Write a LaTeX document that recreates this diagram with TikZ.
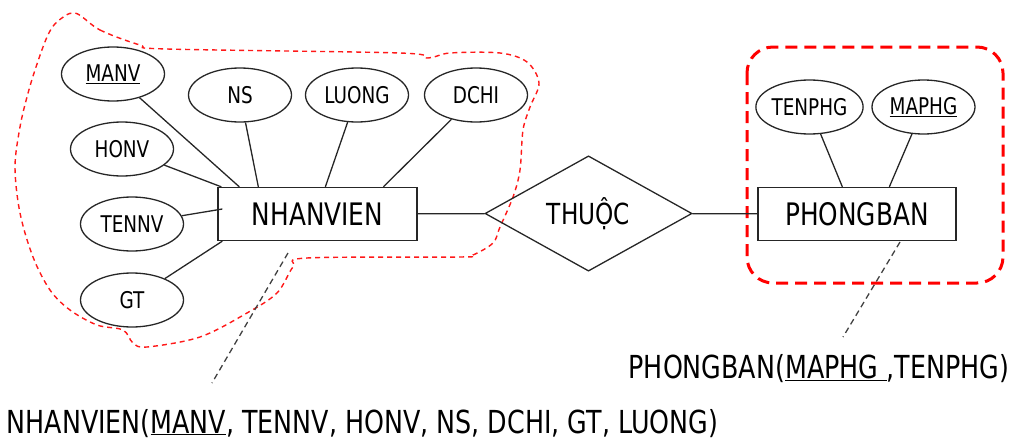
\documentclass[tikz,border=0pt]{standalone}
\usepackage{fontspec}
\setmainfont{DejaVu Sans}[FakeStretch=0.8]
\usetikzlibrary{shapes.geometric}

\begin{document}
\begin{tikzpicture}[x=1pt,y=-1pt,line width=1.3pt,
          attr/.style={draw=black!85,ellipse,inner sep=0pt,minimum width=103pt,
            minimum height=54pt,font=\fontsize{23}{26}\selectfont},
          ent/.style={draw=black!85,rectangle,inner sep=0pt,minimum width=199pt,
            minimum height=53pt,font=\fontsize{31}{34}\selectfont},
          rel/.style={draw=black!85,diamond,inner sep=0pt,minimum width=207pt,
            minimum height=99pt,font=\fontsize{29}{32}\selectfont},
          link/.style={draw=black!85},
          note/.style={draw=black!75,dash pattern=on 6pt off 4pt},
          schema/.style={anchor=base west,inner sep=0pt,font=\fontsize{31.7}{35}\selectfont}]
          \useasboundingbox(0,0)rectangle(1010,439);
          % nhom NHANVIEN
          \draw[red!90,line width=1.4pt,dash pattern=on 5pt off 4pt]
            plot[smooth cycle,tension=0.55] coordinates {(75,13)(100,30)(140,45)(167,49)
            (400,53)(428,58)(450,53)(500,53)(527,62)(539,83)(530,107)(523,130)
            (520,170)(513,197)(500,227)(493,243)(473,255)(460,257)(307,258)(293,267)
            (277,293)(247,313)(200,337)(147,347)(133,343)(123,330)(97,325)(70,310)
            (50,290)(33,257)(20,213)(15,167)(20,127)(27,97)(35,70)(47,37)(57,22)};
          % nhom PHONGBAN
          \draw[red,line width=3pt,dash pattern=on 12pt off 7pt,rounded corners=26pt]
            (747,47)rectangle(1003,283);
          \node[ent](nv)at(317.5,214){NHANVIEN};
          \node[ent,minimum width=198pt](pb)at(857,214){PHONGBAN};
          \node[rel](thuoc)at(588.5,213.5){THUỘC};
          \node[attr](manv)at(113,74){\underline{MANV}};
          \node[attr](ns)at(240,95){NS};
          \node[attr](luong)at(357,95){LUONG};
          \node[attr](dchi)at(476,95){DCHI};
          \node[attr](honv)at(122,149){HONV};
          \node[attr](tennv)at(132,224){TENNV};
          \node[attr](gt)at(132,300){GT};
          \node[attr](tenphg)at(809.5,107){TENPHG};
          \node[attr](maphg)at(923.5,107){\underline{MAPHG}};
          \draw[link](manv)--([xshift=22]nv.north west);
          \draw[link](ns)--([xshift=41]nv.north west);
          \draw[link](luong)--([xshift=108]nv.north west);
          \draw[link](dchi)--([xshift=166]nv.north west);
          \draw[link](honv)--([xshift=4]nv.north west);
          \draw[link](tennv)--([xshift=5,yshift=5]nv.west);
          \draw[link](gt)--([xshift=5]nv.south west);
          \draw[link](tenphg)--([xshift=85]pb.north west);
          \draw[link](maphg)--([xshift=132]pb.north west);
          \draw[link](nv)--(thuoc);
          \draw[link](thuoc)--(pb);
          % luoc do quan he
          \node[schema](nvrel)at(6,433){NHANVIEN(\underline{MANV}, TENNV, HONV, NS, DCHI, GT, LUONG)};
          \node[schema](pbrel)at(628,378){PHONGBAN(\underline{MAPHG\ },TENPHG)};
          \coordinate(nvtop)at(288,253);
          \coordinate(nvbot)at(212,383);
          \coordinate(pbtop)at(900,242);
          \coordinate(pbbot)at(843,337);
          \draw[note](nvtop)--(nvbot);
          \draw[note](pbtop)--(pbbot);
        \end{tikzpicture}
\end{document}
